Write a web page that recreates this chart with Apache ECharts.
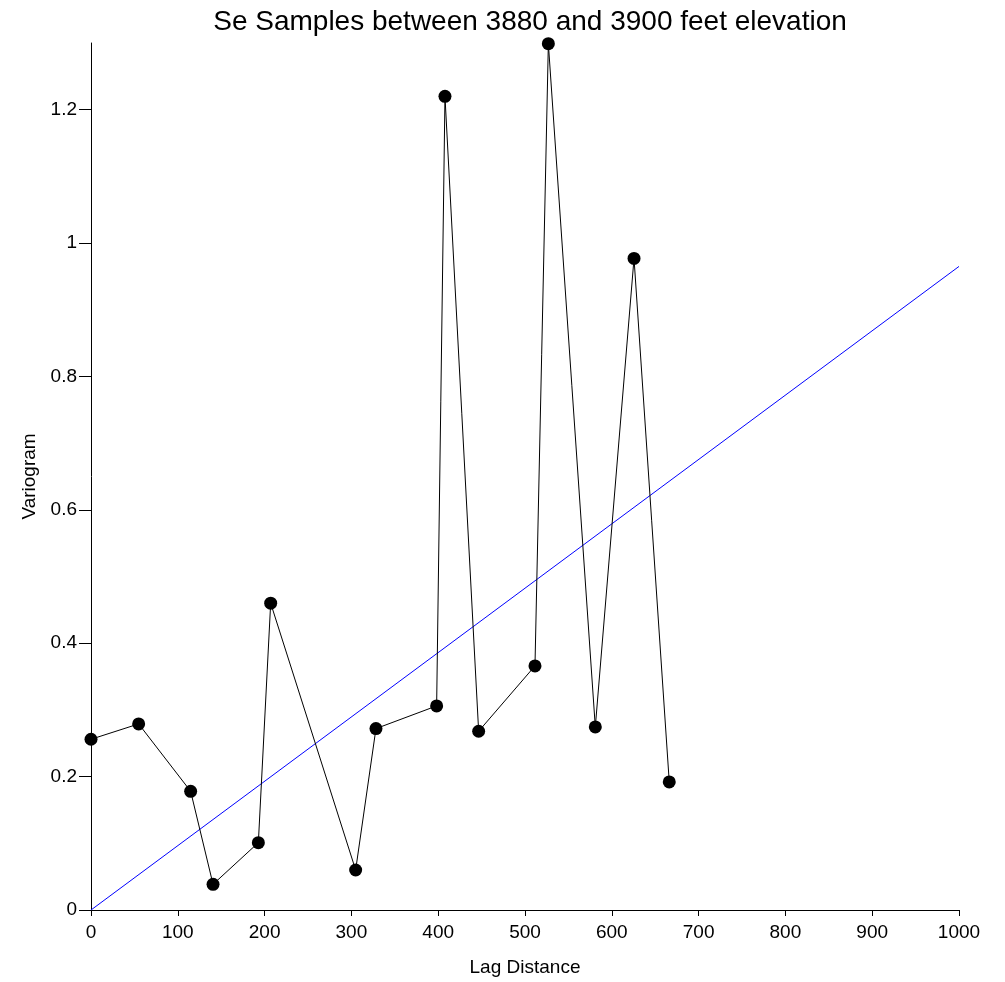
<!DOCTYPE html>
<html>
<head>
<meta charset="utf-8">
<script src="https://cdn.jsdelivr.net/npm/echarts@6/dist/echarts.min.js"></script>
<style>
  html, body { margin: 0; padding: 0; background: #fff; }
  #chart { width: 1005px; height: 982px; }
</style>
</head>
<body>
<div id="chart"></div>
<script>
var lagX = [0, 54.9, 114.8, 140.6, 192.8, 207, 304.9, 328.3, 398.2, 407.8, 446.6, 511.5, 526.9, 581, 625.6, 666.2];
var variogramY = [0.256, 0.279, 0.178, 0.0385, 0.101, 0.460, 0.060, 0.272, 0.306, 1.220, 0.268, 0.366, 1.299, 0.2745, 0.977, 0.192];
var modelX = [0, 1000];
var modelY = [0, 0.965];
var yTicks = [0, 0.2, 0.4, 0.6, 0.8, 1, 1.2];

function pairs(xs, ys) {
    var out = [];
    for (var i = 0; i < xs.length; i++) out.push([xs[i], ys[i]]);
    return out;
}

var myChart = echarts.init(document.getElementById('chart'));
var font = 'Liberation Sans, Arial, sans-serif';
var option = {
    animation: false,
    title: {
        text: 'Se Samples between 3880 and 3900 feet elevation',
        left: 525,
        textAlign: 'center',
        top: 3,
        textStyle: { fontFamily: font, fontSize: 28, fontWeight: 'normal', color: '#000' }
    },
    grid: { left: 91, right: 46, top: 43, bottom: 72 },
    xAxis: {
        type: 'value',
        min: 0,
        max: 1000,
        interval: 100,
        name: 'Lag Distance',
        nameLocation: 'middle',
        nameGap: 48,
        nameTextStyle: { fontFamily: font, fontSize: 19, color: '#000' },
        axisLine: { lineStyle: { color: '#000', width: 1 } },
        axisTick: { length: 6, lineStyle: { color: '#000' } },
        axisLabel: {
            fontFamily: font, fontSize: 19, color: '#000', margin: 13,
            formatter: function (v) { return String(v); }
        },
        splitLine: { show: false }
    },
    yAxis: {
        type: 'value',
        min: 0,
        max: 1.3,
        name: 'Variogram',
        nameLocation: 'middle',
        nameGap: 48,
        nameTextStyle: { fontFamily: font, fontSize: 19, color: '#000' },
        axisLine: { show: true, lineStyle: { color: '#000', width: 1 } },
        axisTick: { show: true, length: 12, customValues: yTicks, lineStyle: { color: '#000' } },
        axisLabel: { fontFamily: font, fontSize: 19, color: '#000', margin: 14, customValues: yTicks },
        splitLine: { show: false }
    },
    series: [
        {
            name: 'model',
            type: 'line',
            data: pairs(modelX, modelY),
            symbol: 'none',
            lineStyle: { color: '#0000ff', width: 1 },
            z: 2
        },
        {
            name: 'variogram',
            type: 'line',
            data: pairs(lagX, variogramY),
            symbol: 'circle',
            symbolSize: 13,
            itemStyle: { color: '#000' },
            lineStyle: { color: '#000', width: 1 },
            z: 3
        }
    ]
};
myChart.setOption(option, true);
</script>
</body>
</html>
